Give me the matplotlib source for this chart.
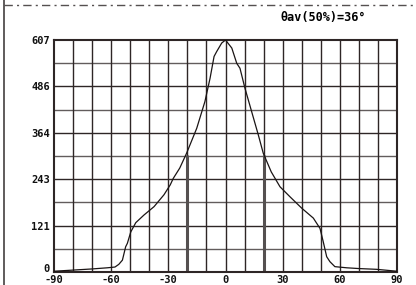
import matplotlib.pyplot as plt
import matplotlib.transforms as mtransforms
from matplotlib.lines import Line2D

# angle (deg) vs intensity
angle = [-90, -80, -70, -62, -58, -56, -54.1, -52.4, -51.5, -49.7, -47.1, -42.8,
         -37.5, -32.3, -29, -27.4, -24, -20.4, -15.1, -10.8, -8.1, -6.0, -4.6,
         -2.0, 0, 3.3, 5.9, 7.6, 10.2, 13.7, 17.2, 19.8, 24, 28.6, 33.8, 40,
         46.1, 49.6, 51.3, 53.1, 54.8, 57.4, 63.6, 70, 79.3, 90]
intensity = [2, 5, 8, 11, 13, 20, 31, 66, 75, 105, 129, 149,
             171, 202, 228, 245, 272, 311, 376, 446, 507, 564, 577,
             599, 607, 586, 546, 533, 481, 420, 359, 311, 262, 223, 197, 167,
             141, 114, 79, 40, 27, 14, 11, 9, 7, 2]

half_angles = [-20, 20]
half_value = 306
ytick_vals = [0, 121.4, 242.8, 364.2, 485.6, 607]
ytick_labels = ["0", "121", "243", "364", "486", "607"]
xtick_vals = [-90, -60, -30, 0, 30, 60, 90]
xtick_labels = ["-90", "-60", "-30", "0", "30", "60", "90"]
title = "θav(50%)=36°"

grid_c = "#2e2626"
font = dict(family="DejaVu Sans Mono", weight="bold", size=7.5)

fig = plt.figure(figsize=(4.16, 2.85), dpi=100)
ax = fig.add_axes([54 / 416, 1 - 272 / 285, 343 / 416, 232 / 285])

# grid
for gx in range(-80, 90, 10):
    ax.axvline(gx, color=grid_c, lw=1.0, zorder=1)
for i in range(1, 10):
    ax.axhline(607 * i / 10, color=grid_c, lw=1.0, zorder=1,
               alpha=1.0 if i % 2 == 0 else 0.75)

# 50% markers
ax.vlines(half_angles, 0, half_value, color="#555050", lw=2.2, zorder=2)

ax.plot(angle, intensity, color="#1a1414", lw=0.9, zorder=3)

ax.set_xlim(-90, 90)
ax.set_ylim(0, 607)
for s in ax.spines.values():
    s.set_color(grid_c)
    s.set_linewidth(1.5)

ax.set_yticks(ytick_vals)
ax.set_yticklabels(ytick_labels, fontdict=font)
ax.set_xticks(xtick_vals)
ax.set_xticklabels(xtick_labels, fontdict=font)
ax.tick_params(axis="both", length=0, pad=3, colors="#111111")
ax.tick_params(axis="x", pad=2)

# lift the "0" label a little, as in the reference
zero_lbl = ax.get_yticklabels()[0]
zero_lbl.set_transform(zero_lbl.get_transform() +
                       mtransforms.ScaledTranslation(0, 4 / 100, fig.dpi_scale_trans))

fig.text(366 / 416, 1 - 17 / 285, title, ha="right", va="center",
         fontfamily="DejaVu Sans Mono", fontweight="bold", fontsize=8.5)

# outer frame pieces
fig.add_artist(Line2D([4 / 416, 4 / 416], [0, 1], color="#444040", lw=1.2,
                      transform=fig.transFigure))
fig.add_artist(Line2D([4 / 416, 1], [1 - 5 / 285, 1 - 5 / 285], color="#555050",
                      lw=1.0, ls=(0, (6, 3, 1.5, 3)), transform=fig.transFigure))

fig.savefig("out.png", dpi=100)
